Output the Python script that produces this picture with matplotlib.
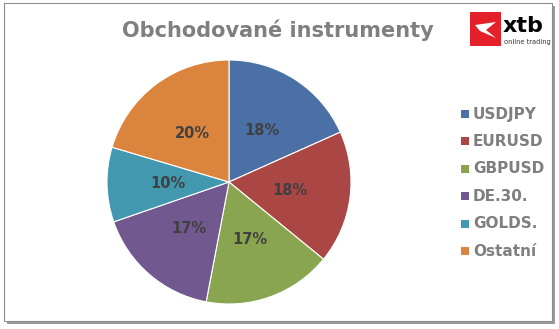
import matplotlib.pyplot as plt
from matplotlib.patches import Rectangle, Polygon

# Data (shares; labels show rounded percent)
labels = ['USDJPY', 'EURUSD', 'GBPUSD', 'DE.30.', 'GOLDS.', 'Ostatní']
values = [18.3, 17.6, 17.1, 16.7, 9.9, 20.4]
colors = ['#4A70A6', '#AA4643', '#8AA54F', '#71588F', '#4298AF', '#DB843D']

W, H = 559, 329
fig = plt.figure(figsize=(W / 100, H / 100), dpi=100)
fig.patch.set_facecolor('white')

# frame with shadow
fig.patches.append(Rectangle((7 / W, 5 / H), 548 / W, 318 / H, transform=fig.transFigure,
                             facecolor='#9a9a9a', edgecolor='none', zorder=-3))
fig.patches.append(Rectangle((4 / W, 8 / H), 548 / W, 318 / H, transform=fig.transFigure,
                             facecolor='white', edgecolor='#8c8c8c', linewidth=0.8, zorder=-2))

# pie: center (229,182), radius 122 px
r = 122
ax = fig.add_axes([(229 - r) / W, (H - 182 - r) / H, 2 * r / W, 2 * r / H])
ax.set_zorder(2)
ax.patch.set_visible(False)
wedges, texts, autotexts = ax.pie(values, colors=colors, startangle=90, counterclock=False,
                                  autopct='%1.0f%%', pctdistance=0.5,
                                  wedgeprops=dict(edgecolor='white', linewidth=0.8),
                                  textprops=dict(color='#404040', fontsize=10.5, fontweight='bold'))
ax.set_xlim(-1, 1)
ax.set_ylim(-1, 1)
ax.set_aspect('equal')

# title
fig.text(278 / W, 1 - 30 / H, 'Obchodované instrumenty', ha='center', va='center',
         fontsize=15, fontweight='bold', color='#7f7f7f')

# legend
ly0 = 114
for i, (lab, c) in enumerate(zip(labels, colors)):
    y = ly0 + i * 27.4
    fig.patches.append(Rectangle((461 / W, 1 - (y + 4) / H), 8 / W, 8 / H,
                                 transform=fig.transFigure, facecolor=c, edgecolor='none'))
    fig.text(473 / W, 1 - y / H, lab, ha='left', va='center', fontsize=11,
             fontweight='bold', color='#7f7f7f')

# logo
fig.patches.append(Rectangle((470 / W, 1 - 46 / H), 31 / W, 34 / H,
                             transform=fig.transFigure, facecolor='#E4202A', edgecolor='none'))
fig.patches.append(Polygon([(475 / W, 1 - 25 / H), (496 / W, 1 - 22 / H), (486 / W, 1 - 30 / H),
                            (496 / W, 1 - 38 / H), (480 / W, 1 - 31 / H)],
                           closed=True, transform=fig.transFigure, facecolor='white', edgecolor='none'))
fig.text(503 / W, 1 - 26 / H, 'xtb', ha='left', va='center', fontsize=16,
         fontweight='bold', color='black')
fig.text(504 / W, 1 - 42 / H, 'online trading', ha='left', va='center', fontsize=4.8,
         color='#333333')

fig.savefig('out.png', dpi=100, facecolor='white')
